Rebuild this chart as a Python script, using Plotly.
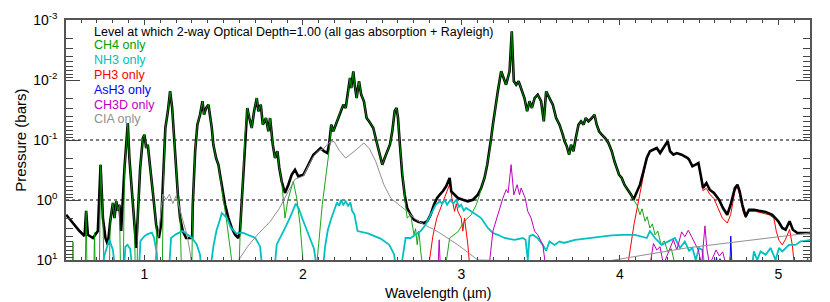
import plotly.graph_objects as go

# ---------------- data (wavelength in micron, pressure in bars) ----------------
TOTAL_WL = [0.506, 0.549, 0.590, 0.622, 0.632, 0.643, 0.675, 0.706, 0.723, 0.738, 0.754, 0.769, 0.784,
            0.801, 0.811, 0.822, 0.832, 0.842, 0.853, 0.874, 0.885, 0.895, 0.905, 0.916, 0.937, 0.948,
            0.958, 0.973, 0.990, 1.000, 1.011, 1.021, 1.032, 1.042, 1.057, 1.074, 1.091, 1.105, 1.120,
            1.132, 1.148, 1.162, 1.175, 1.183, 1.195, 1.211, 1.225, 1.242, 1.263, 1.301, 1.305, 1.320,
            1.334, 1.351, 1.366, 1.376, 1.389, 1.404, 1.425, 1.435, 1.452, 1.467, 1.477, 1.492, 1.509,
            1.530, 1.551, 1.572, 1.593, 1.603, 1.620, 1.635, 1.649, 1.662, 1.677, 1.692, 1.709, 1.719,
            1.734, 1.747, 1.767, 1.782, 1.793, 1.810, 1.824, 1.839, 1.851, 1.866, 1.887, 1.908, 1.929,
            1.950, 1.971, 2.003, 2.034, 2.066, 2.091, 2.112, 2.133, 2.154, 2.165, 2.179, 2.192, 2.207,
            2.221, 2.238, 2.255, 2.270, 2.284, 2.297, 2.305, 2.318, 2.327, 2.339, 2.354, 2.368, 2.385,
            2.402, 2.417, 2.431, 2.444, 2.459, 2.474, 2.486, 2.501, 2.516, 2.532, 2.549, 2.564, 2.579,
            2.591, 2.600, 2.612, 2.627, 2.642, 2.658, 2.680, 2.701, 2.732, 2.764, 2.784, 2.806, 2.827,
            2.847, 2.864, 2.883, 2.904, 2.926, 2.936, 2.957, 2.978, 3.009, 3.041, 3.073, 3.104, 3.125,
            3.146, 3.163, 3.178, 3.188, 3.199, 3.213, 3.230, 3.251, 3.268, 3.282, 3.304, 3.318, 3.331,
            3.346, 3.361, 3.377, 3.398, 3.415, 3.430, 3.445, 3.462, 3.482, 3.503, 3.520, 3.535, 3.556,
            3.577, 3.598, 3.619, 3.640, 3.651, 3.665, 3.680, 3.692, 3.707, 3.722, 3.739, 3.755, 3.771,
            3.785, 3.802, 3.823, 3.840, 3.854, 3.869, 3.886, 3.907, 3.928, 3.949, 3.966, 3.980, 3.995,
            4.012, 4.029, 4.050, 4.071, 4.086, 4.107, 4.127, 4.149, 4.170, 4.190, 4.212, 4.233, 4.254,
            4.275, 4.302, 4.317, 4.338, 4.359, 4.390, 4.428, 4.437, 4.458, 4.479, 4.496, 4.510, 4.525,
            4.546, 4.567, 4.594, 4.626, 4.651, 4.678, 4.699, 4.726, 4.742, 4.756, 4.773, 4.794, 4.815,
            4.846, 4.878, 4.920, 4.962, 5.000, 5.025, 5.046, 5.071, 5.092, 5.120, 5.172, 5.204]
TOTAL_P = [1.76, 2.42, 3.29, 3.98, 1.52, 3.79, 4.30, 3.29, 0.258, 2.00, 4.30, 5.56, 2.26,
           1.12, 2.00, 1.05, 1.52, 1.20, 3.29, 0.293, 0.136, 0.0521, 0.200, 0.556, 2.58, 6.31,
           2.00, 0.293, 0.0927, 0.0816, 0.136, 0.120, 0.226, 0.379, 0.927, 2.58, 4.30, 2.58, 0.430,
           0.0631, 0.0332, 0.0154, 0.0293, 0.0631, 0.200, 0.816, 2.00, 3.29, 4.30, 4.30, 1.20, 0.154,
           0.0556, 0.0379, 0.0226, 0.0379, 0.0293, 0.0258, 0.0631, 0.120, 0.200, 0.258, 0.379, 0.716, 1.20,
           2.00, 2.93, 3.79, 4.30, 3.29, 0.556, 0.0816, 0.0293, 0.0430, 0.0631, 0.0332, 0.0200, 0.0332,
           0.0258, 0.0556, 0.0430, 0.0716, 0.0430, 0.120, 0.200, 0.154, 0.293, 0.488, 0.764, 0.556, 0.379,
           0.313, 0.403, 0.379, 0.258, 0.176, 0.154, 0.136, 0.154, 0.165, 0.120, 0.0556, 0.0716, 0.0556,
           0.0430, 0.0332, 0.0258, 0.0293, 0.0176, 0.00927, 0.0136, 0.00716, 0.0120, 0.0200, 0.0105, 0.0176, 0.0226,
           0.0430, 0.0488, 0.0556, 0.0631, 0.0927, 0.136, 0.176, 0.258, 0.200, 0.154, 0.120, 0.0716, 0.0332,
           0.0293, 0.0430, 0.120, 0.379, 0.816, 1.36, 1.76, 2.13, 2.33, 2.42, 2.26, 1.76, 1.20,
           0.927, 0.816, 0.716, 0.591, 0.430, 0.716, 0.816, 0.927, 0.99, 1.05, 0.99, 0.816, 0.631,
           0.430, 0.258, 0.154, 0.0927, 0.0556, 0.0293, 0.0154, 0.00716, 0.00927, 0.0120, 0.00716, 0.00154, 0.0105,
           0.0120, 0.0105, 0.0136, 0.0200, 0.0332, 0.0226, 0.0293, 0.0200, 0.0176, 0.0226, 0.0488, 0.0154, 0.0200,
           0.0258, 0.0430, 0.0556, 0.0816, 0.105, 0.127, 0.176, 0.120, 0.154, 0.0927, 0.0556, 0.0488, 0.0556,
           0.0430, 0.0488, 0.0430, 0.0379, 0.0556, 0.0716, 0.0816, 0.0927, 0.112, 0.154, 0.226, 0.293, 0.379,
           0.430, 0.556, 0.673, 0.816, 0.99, 0.716, 0.556, 0.333, 0.200, 0.154, 0.145, 0.136, 0.165,
           0.136, 0.105, 0.154, 0.176, 0.165, 0.176, 0.200, 0.213, 0.274, 0.258, 0.242, 0.379, 0.631,
           0.521, 0.673, 0.764, 0.99, 1.36, 1.76, 1.20, 0.631, 0.556, 0.716, 1.20, 1.87, 1.45,
           1.45, 1.51, 1.58, 1.76, 2.26, 2.93, 3.13, 2.26, 3.13, 3.55, 3.55, 3.55]

CH4_WL = [0.500, 0.545, 0.549, 0.553, 0.626, 0.632, 0.638, 0.680, 0.685, 0.690,
          0.715, 0.723, 0.738, 0.746, 0.778, 0.784, 0.801, 0.811, 0.822, 0.832, 0.842, 0.850,
          0.866, 0.874, 0.885, 0.895, 0.905, 0.916, 0.937, 0.943,
          0.953, 0.958, 0.973, 0.990, 1.000, 1.011, 1.021, 1.032, 1.042, 1.057, 1.074, 1.082,
          1.112, 1.120, 1.132, 1.148, 1.162, 1.175, 1.183, 1.195, 1.211, 1.225, 1.235,
          1.298, 1.305, 1.320, 1.334, 1.351, 1.366, 1.376, 1.389, 1.404, 1.425, 1.435, 1.452, 1.467,
          1.477, 1.492, 1.505, 1.520, 1.535, 1.550, 1.565,
          1.595, 1.605, 1.620, 1.635, 1.649, 1.662, 1.677, 1.692, 1.709, 1.719, 1.734, 1.747, 1.767,
          1.782, 1.793, 1.810, 1.824, 1.839, 1.851, 1.866, 1.887, 1.905, 1.939, 1.961, 1.982, 2.000, 2.005,
          2.080, 2.100, 2.122, 2.145, 2.165, 2.179, 2.192, 2.207, 2.221, 2.238, 2.255, 2.270, 2.284,
          2.297, 2.305, 2.318, 2.327, 2.339, 2.354, 2.368, 2.385, 2.402, 2.417, 2.431, 2.444, 2.459,
          2.474, 2.486, 2.501, 2.516, 2.532, 2.549, 2.564, 2.579, 2.591, 2.600, 2.612, 2.627, 2.642,
          2.658, 2.680, 2.701, 2.711, 2.721, 2.732, 2.743, 2.764,
          2.890, 2.926, 2.978, 3.020, 3.062, 3.094, 3.115, 3.125, 3.146, 3.163, 3.178, 3.188, 3.199,
          3.213, 3.230, 3.251, 3.268, 3.282, 3.304, 3.318, 3.331, 3.346, 3.361, 3.377, 3.398, 3.415,
          3.430, 3.445, 3.462, 3.482, 3.503, 3.520, 3.535, 3.556, 3.577, 3.598, 3.619, 3.640, 3.651,
          3.665, 3.680, 3.692, 3.707, 3.722, 3.739, 3.755, 3.771, 3.785, 3.802, 3.823, 3.840, 3.854,
          3.869, 3.886, 3.907, 3.928, 3.949, 3.966, 3.980, 3.995, 4.012, 4.029, 4.050, 4.071, 4.086,
          4.107, 4.127, 4.140, 4.159, 4.172, 4.190, 4.205, 4.222, 4.240, 4.260, 4.280, 4.302, 4.325,
          4.348, 4.360, 5.170, 5.185, 5.200]
CH4_P = [20, 20, 5.0, 20, 20, 1.52, 20, 20, 3.5, 20,
         20, 0.258, 2.00, 20, 20, 2.26, 1.12, 2.00, 1.05, 1.52, 1.20, 20,
         20, 0.293, 0.136, 0.0521, 0.200, 0.556, 2.58, 20,
         20, 2.00, 0.293, 0.0927, 0.0816, 0.136, 0.120, 0.226, 0.379, 0.927, 2.58, 20,
         20, 0.430, 0.0631, 0.0332, 0.0154, 0.0293, 0.0631, 0.200, 0.816, 2.00, 20,
         20, 1.20, 0.154, 0.0556, 0.0379, 0.0226, 0.0379, 0.0293, 0.0258, 0.0631, 0.120, 0.200, 0.258,
         0.379, 0.716, 1.3, 2.4, 4.5, 9.0, 20,
         20, 3.0, 0.556, 0.0816, 0.0293, 0.0430, 0.0631, 0.0332, 0.0200, 0.0332, 0.0258, 0.0556, 0.0430,
         0.0716, 0.0430, 0.120, 0.200, 0.154, 0.293, 0.488, 2.0, 1.0, 0.488, 0.93, 2.58, 10, 20,
         20, 5.0, 1.2, 0.40, 0.154, 0.0556, 0.0716, 0.0556, 0.0430, 0.0332, 0.0258, 0.0293, 0.0176,
         0.00927, 0.0136, 0.00716, 0.0120, 0.0200, 0.0105, 0.0176, 0.0226, 0.0430, 0.0488, 0.0556, 0.0631, 0.0927,
         0.136, 0.176, 0.258, 0.200, 0.154, 0.120, 0.0716, 0.0332, 0.0293, 0.0430, 0.120, 0.379, 0.9,
         2.0, 1.76, 3.79, 3.0, 5.56, 3.3, 7.0, 20,
         20, 4.3, 3.4, 2.26, 1.76, 1.2, 0.82, 0.631, 0.430, 0.258, 0.154, 0.0927, 0.0556,
         0.0293, 0.0154, 0.00716, 0.00927, 0.0120, 0.00716, 0.00154, 0.0105, 0.0120, 0.0105, 0.0136, 0.0200, 0.0332,
         0.0226, 0.0293, 0.0200, 0.0176, 0.0226, 0.0488, 0.0154, 0.0200, 0.0258, 0.0430, 0.0556, 0.0816, 0.105,
         0.127, 0.176, 0.120, 0.154, 0.0927, 0.0556, 0.0488, 0.0556, 0.0430, 0.0488, 0.0430, 0.0379, 0.0556,
         0.0716, 0.0816, 0.0927, 0.112, 0.154, 0.226, 0.293, 0.379, 0.430, 0.556, 0.673, 0.816, 0.99,
         1.2, 1.76, 1.4, 2.26, 1.9, 2.93, 2.5, 3.8, 3.3, 5.6, 4.8, 7.2, 6.5,
         12, 20, 20, 9.0, 20]

NH3_WL = [0.735, 0.745, 0.758, 0.779, 0.801, 0.815,
          0.870, 0.880, 0.893, 0.910, 0.925,
          0.965, 0.975, 1.000, 1.020, 1.047, 1.060, 1.075, 1.085,
          1.155, 1.168, 1.200, 1.242, 1.270, 1.300, 1.330, 1.350, 1.360,
          1.415, 1.435, 1.455, 1.475, 1.488, 1.500, 1.520, 1.545, 1.580, 1.620, 1.660, 1.700, 1.730, 1.745,
          1.820, 1.835, 1.880, 1.919, 1.955, 1.975, 1.995, 2.020, 2.045, 2.070, 2.090,
          2.125, 2.140, 2.157, 2.180, 2.205, 2.215, 2.230, 2.240, 2.255, 2.270, 2.285, 2.300, 2.310,
          2.325, 2.345, 2.410, 2.490, 2.545, 2.575, 2.590,
          2.617, 2.648, 2.680, 2.711, 2.743, 2.774, 2.806, 2.838, 2.864, 2.880, 2.894, 2.910, 2.930,
          2.950, 2.967, 2.985, 2.999, 3.015, 3.030, 3.062, 3.094, 3.125, 3.146, 3.167, 3.199, 3.230,
          3.272, 3.335, 3.388, 3.405, 3.419, 3.430, 3.451, 3.480, 3.514, 3.535, 3.556, 3.588, 3.619,
          3.646, 3.717, 3.802, 3.886, 3.949, 4.012, 4.096, 4.170, 4.190, 4.222, 4.264, 4.306, 4.348,
          4.380, 4.410, 4.437, 4.458, 4.479, 4.500, 4.521, 4.535,
          4.830, 4.846, 4.867, 4.888, 4.920, 4.951, 4.983, 5.004, 5.025, 5.067, 5.109, 5.140, 5.172, 5.203]
NH3_P = [15, 8.8, 6.8, 4.6, 6.8, 15,
         15, 6.0, 5.6, 6.5, 15,
         15, 4.8, 4.0, 3.7, 3.5, 4.2, 7.0, 15,
         15, 4.3, 3.7, 3.3, 3.7, 4.3, 5.5, 8.0, 15,
         15, 6.0, 3.2, 2.2, 1.65, 1.75, 2.0, 2.9, 3.6, 3.5, 3.9, 4.3, 6.0, 15,
         15, 5.5, 3.2, 1.95, 1.15, 1.4, 2.0, 3.0, 4.5, 6.5, 15,
         15, 6.0, 3.2, 2.0, 1.3, 1.1, 1.25, 1.0, 1.2, 1.05, 1.25, 1.1, 1.5,
         1.75, 3.3, 3.6, 4.4, 5.6, 8.0, 15,
         15, 4.3, 4.3, 3.8, 3.3, 2.58, 1.76, 1.2, 1.05, 1.15, 0.99, 1.2, 1.0,
         1.15, 0.99, 1.3, 1.2, 1.5, 1.36, 1.55, 1.76, 2.0, 2.42, 2.93, 3.55, 3.8,
         4.3, 4.6, 4.3, 4.6, 10, 4.0, 3.8, 4.3, 5.6, 7.0, 4.9, 5.6, 4.9,
         5.2, 4.6, 4.3, 4.0, 3.9, 3.8, 3.8, 4.3, 3.3, 4.3, 5.6, 4.9, 4.3,
         6.3, 4.9, 7.0, 6.3, 10, 6.3, 6.8, 15,
         15, 7.2, 10, 7.2, 8.2, 6.3, 10, 6.3, 7.2, 5.6, 5.6, 4.9, 4.8, 4.6]

PH3_WL = [2.790, 2.820, 2.845, 2.864, 2.885, 2.907, 2.928, 2.940, 2.957, 2.968, 2.978, 2.999,
          3.009, 3.020, 3.032, 3.041, 3.055,
          4.045, 4.090, 4.127, 4.149, 4.170, 4.190, 4.212, 4.233, 4.254, 4.275, 4.302, 4.317, 4.338,
          4.359, 4.390, 4.428, 4.437, 4.458, 4.479, 4.496, 4.510, 4.525, 4.546, 4.567, 4.594, 4.625,
          4.647, 4.678, 4.699, 4.726, 4.742, 4.756, 4.777, 4.794, 4.815, 4.857, 4.899, 4.941, 4.972,
          4.987, 5.004, 5.025, 5.046, 5.071, 5.088, 5.105]
PH3_P = [15, 4.0, 2.0, 1.47, 1.05, 0.77, 0.53, 0.93, 1.55, 1.15, 1.55, 2.0,
         3.3, 2.0, 3.5, 5.6, 15,
         15, 2.5, 0.75, 0.40, 0.200, 0.154, 0.145, 0.136, 0.165, 0.136, 0.105, 0.154, 0.176,
         0.165, 0.176, 0.200, 0.213, 0.274, 0.258, 0.242, 0.40, 0.70, 0.64, 0.80, 0.95, 1.45,
         2.0, 2.42, 1.76, 0.716, 0.59, 0.82, 1.55, 2.0, 1.55, 1.55, 1.65, 1.76, 2.0,
         3.3, 4.7, 5.6, 4.5, 3.1, 5.6, 15]

ASH3_WL = [4.600, 4.610, 4.620, 4.632, 4.645, 4.690, 4.697, 4.700, 4.705, 4.712]
ASH3_P = [15, 9.0, 15, 9.5, 15, 15, 8.0, 4.0, 9.0, 15]

CH3D_WL = [2.852, 2.860, 2.868,
           3.172, 3.199, 3.230, 3.262, 3.283, 3.295, 3.314, 3.331, 3.352, 3.367, 3.377, 3.394, 3.403,
           3.419, 3.440, 3.462, 3.482, 3.514, 3.535,
           4.185, 4.212, 4.233, 4.254, 4.275, 4.306, 4.338, 4.360, 4.390, 4.410, 4.432, 4.453, 4.474,
           4.495, 4.516, 4.537, 4.550, 4.567, 4.607, 4.628, 4.649, 4.670]
CH3D_P = [15, 4.6, 15,
          15, 3.3, 1.76, 0.93, 0.67, 0.76, 0.258, 0.82, 0.556, 0.82, 0.63, 0.82, 0.93,
          1.55, 2.0, 3.3, 3.8, 5.6, 15,
          15, 5.3, 6.8, 6.0, 12, 7.7, 4.6, 6.8, 3.4, 4.1, 3.2, 4.1, 5.3,
          6.8, 12, 2.7, 6.8, 12, 6.8, 8.6, 7.3, 12]

CIA_WL = [1.060, 1.080, 1.100, 1.116, 1.137, 1.158, 1.179, 1.200, 1.221, 1.242, 1.270, 1.290, 1.300,
          1.575, 1.650, 1.720, 1.793, 1.850, 1.877, 1.908, 1.950, 2.003, 2.034, 2.066, 2.100, 2.130,
          2.165, 2.196, 2.230, 2.270, 2.330, 2.385, 2.420, 2.459, 2.511, 2.554, 2.617, 2.658, 2.701,
          2.764, 2.827, 2.864, 2.978, 3.104,
          3.870, 4.420, 5.200]
CIA_P = [15, 6.0, 2.0, 0.80, 0.99, 0.80, 1.15, 0.85, 1.4, 2.3, 4.0, 8.0, 15,
         12, 6.0, 3.6, 2.3, 1.4, 1.0, 0.72, 0.45, 0.40, 0.27, 0.19, 0.15, 0.14,
         0.11, 0.105, 0.15, 0.20, 0.15, 0.112, 0.14, 0.226, 0.556, 0.93, 1.27, 1.55, 2.0,
         2.58, 3.1, 3.55, 5.6, 10,
         11, 6.3, 3.55]

REF_LEVELS = [0.1, 1.0]
X_RANGE = [0.505, 5.2]
Y_DECADES = [-3, -2, -1, 0, 1]
Y_TICKTEXT = ["10<sup>-3</sup>", "10<sup>-2</sup>", "10<sup>-1</sup>", "10<sup>0</sup>", "10<sup>1</sup>"]
X_TICKS = [1, 2, 3, 4, 5]

LEGEND_LINES = [
    ("Level at which 2-way Optical Depth=1.00 (all gas absorption + Rayleigh)", "#000000"),
    ("CH4 only", "#00A000"),
    ("NH3 only", "#00C0C0"),
    ("PH3 only", "#FF0000"),
    ("AsH3 only", "#0000FF"),
    ("CH3D only", "#C000C0"),
    ("CIA only", "#909090"),
]

# ---------------- figure ----------------
FONT = "Liberation Sans, Arial, Helvetica, sans-serif"
fig = go.Figure()

for lvl in REF_LEVELS:
    fig.add_trace(go.Scatter(x=X_RANGE, y=[lvl, lvl], mode="lines",
                             line=dict(color="black", width=1, dash="dot"), hoverinfo="skip"))

fig.add_trace(go.Scatter(x=PH3_WL, y=PH3_P, mode="lines", line=dict(color="#FF0000", width=1)))
fig.add_trace(go.Scatter(x=TOTAL_WL, y=TOTAL_P, mode="lines", line=dict(color="black", width=2.6)))
fig.add_trace(go.Scatter(x=CH4_WL, y=CH4_P, mode="lines", line=dict(color="#009A00", width=0.9)))
fig.add_trace(go.Scatter(x=NH3_WL, y=NH3_P, mode="lines", line=dict(color="#00C0C0", width=1.8)))
fig.add_trace(go.Scatter(x=ASH3_WL, y=ASH3_P, mode="lines", line=dict(color="#0000FF", width=1)))
fig.add_trace(go.Scatter(x=CH3D_WL, y=CH3D_P, mode="lines", line=dict(color="#C000C0", width=1)))
fig.add_trace(go.Scatter(x=CIA_WL, y=CIA_P, mode="lines", line=dict(color="#909090", width=1)))

y_minor = [k * 10.0 ** e for e in range(-3, 1) for k in range(2, 10)]

fig.update_xaxes(range=X_RANGE, tickvals=X_TICKS, ticks="inside", ticklen=5, tickcolor="#444",
                 showline=True, linecolor="#555", linewidth=1.5, mirror="ticks", showgrid=False,
                 zeroline=False, automargin=False, tickfont=dict(family=FONT, size=14, color="black"),
                 minor=dict(dtick=0.1, ticks="inside", ticklen=3, tickcolor="#444", showgrid=False))
fig.update_yaxes(type="log", range=[1, -3], tickvals=[10.0 ** d for d in Y_DECADES], ticktext=Y_TICKTEXT,
                 ticks="inside", ticklen=14, tickcolor="#444", showline=True, linecolor="#555",
                 linewidth=1.5, mirror="ticks", showgrid=False, zeroline=False, automargin=False,
                 tickfont=dict(family=FONT, size=14, color="black"), ticklabelstandoff=4,
                 minor=dict(tickvals=y_minor, ticks="inside", ticklen=7, tickcolor="#444", showgrid=False))

annotations = []
legend_y = [32, 45.5, 60, 74.5, 89.5, 104.5, 119]
for (txt, col), ypx in zip(LEGEND_LINES, legend_y):
    annotations.append(dict(text=txt, x=(92 - 66) / 744, y=1 - (ypx - 20) / 240, xref="paper", yref="paper",
                            xanchor="left", yanchor="middle", showarrow=False,
                            font=dict(family=FONT, size=12.5, color=col)))
annotations.append(dict(text="Wavelength (\u00b5m)", x=0.5, y=-0.095, xref="paper", yref="paper",
                        xanchor="center", yanchor="top", showarrow=False,
                        font=dict(family=FONT, size=14, color="black")))
annotations.append(dict(text="Pressure (bars)", x=-0.062, y=0.5, xref="paper", yref="paper",
                        xanchor="center", yanchor="middle", textangle=-90, showarrow=False,
                        font=dict(family=FONT, size=15, color="black")))

fig.update_layout(width=830, height=302, margin=dict(l=66, r=20, t=20, b=42, autoexpand=False),
                  paper_bgcolor="white", plot_bgcolor="white", showlegend=False,
                  annotations=annotations)

fig.write_html("out.html", config={"displayModeBar": False},
               post_script="document.body.style.margin='0px';document.body.style.overflow='hidden';")
